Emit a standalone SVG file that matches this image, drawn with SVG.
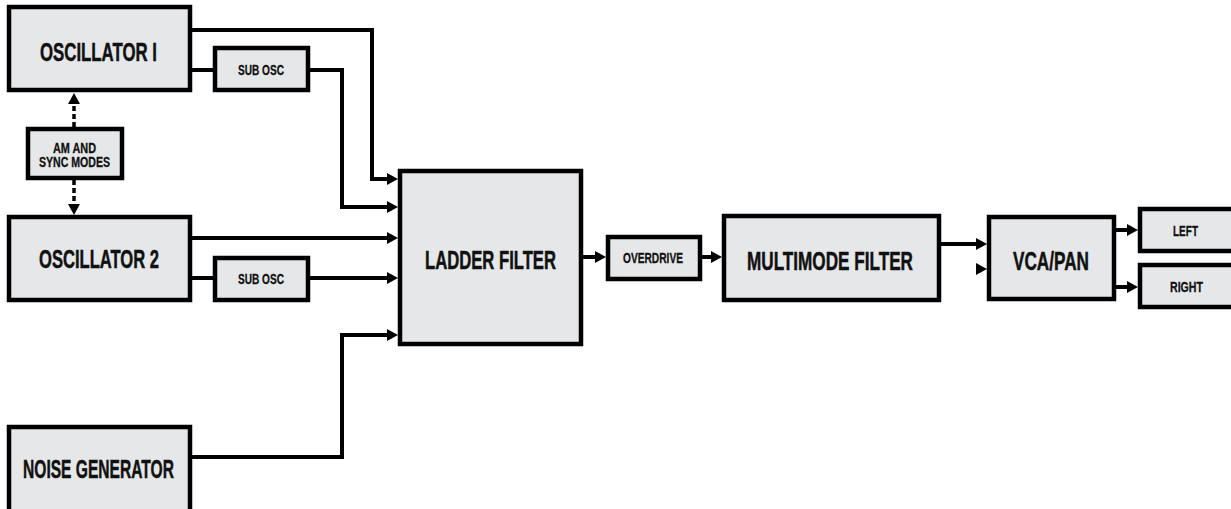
<svg xmlns="http://www.w3.org/2000/svg" width="1231" height="509" viewBox="0 0 1231 509">
<style>
.box{fill:#e6e7e8;stroke:#000;stroke-width:4.5}
.t{font-family:"Liberation Sans",Arial,sans-serif;font-weight:bold;text-anchor:middle;fill:#111;stroke:#111;stroke-width:0.5}
.big{font-size:26px}
.sm{font-size:15px;stroke-width:0.3}
.xs{font-size:14px;stroke-width:0.3}
.c{fill:none;stroke:#000;stroke-width:4;marker-end:url(#ah)}
.p{fill:none;stroke:#000;stroke-width:4}
.d{fill:none;stroke:#000;stroke-width:3.5;stroke-dasharray:5 3;marker-end:url(#ah)}
</style>
<defs>
<marker id="ah" markerWidth="12" markerHeight="14" refX="0" refY="7" orient="auto" markerUnits="userSpaceOnUse">
<path d="M0,1 L11,7 L0,13 z" fill="#000"/>
</marker>
</defs>
<rect width="1231" height="509" fill="#fff"/>
<g id="connectors">
<path class="c" d="M190,30 H372 V179 H387"/>
<path class="p" d="M190,70 H215"/>
<path class="c" d="M308,70 H342 V207 H387"/>
<path class="c" d="M190,238 H387"/>
<path class="p" d="M190,278 H215"/>
<path class="c" d="M308,278 H387"/>
<path class="c" d="M190,457 H342 V335 H387"/>
<path class="c" d="M581,257 H595"/>
<path class="c" d="M700,257 H711"/>
<path class="c" d="M939,244 H976"/>
<path d="M976,263 L987,269 L976,275 z" fill="#000"/>
<path class="c" d="M1114,230 H1127"/>
<path class="c" d="M1114,287 H1127"/>
<path class="d" d="M74,127 V104"/>
<path class="d" d="M74,180 V204"/>
</g>
<g id="osc1">
<rect class="box" x="9" y="7" width="181" height="83"/>
<text class="t big" x="98.5" y="61" textLength="117" lengthAdjust="spacingAndGlyphs">OSCILLATOR I</text>
</g>
<g id="sub1">
<rect class="box" x="215" y="48" width="93" height="42"/>
<text class="t sm" x="261" y="74.5" textLength="46" lengthAdjust="spacingAndGlyphs">SUB OSC</text>
</g>
<g id="am">
<rect class="box" x="28" y="129" width="94" height="49"/>
<text class="t xs" x="74.5" y="153" textLength="43" lengthAdjust="spacingAndGlyphs">AM AND</text>
<text class="t xs" x="74.5" y="167" textLength="71" lengthAdjust="spacingAndGlyphs">SYNC MODES</text>
</g>
<g id="osc2">
<rect class="box" x="9" y="217" width="181" height="83"/>
<text class="t big" x="99" y="268" textLength="120" lengthAdjust="spacingAndGlyphs">OSCILLATOR 2</text>
</g>
<g id="sub2">
<rect class="box" x="215" y="258" width="93" height="42"/>
<text class="t sm" x="261" y="284" textLength="46" lengthAdjust="spacingAndGlyphs">SUB OSC</text>
</g>
<g id="noise">
<rect class="box" x="9" y="427" width="181" height="100"/>
<text class="t big" x="98.5" y="478" textLength="151" lengthAdjust="spacingAndGlyphs">NOISE GENERATOR</text>
</g>
<g id="ladder">
<rect class="box" x="400" y="171" width="181" height="173"/>
<text class="t big" x="490.5" y="269" textLength="131" lengthAdjust="spacingAndGlyphs">LADDER FILTER</text>
</g>
<g id="overdrive">
<rect class="box" x="608" y="237" width="92" height="42"/>
<text class="t sm" x="653" y="263" textLength="60" lengthAdjust="spacingAndGlyphs">OVERDRIVE</text>
</g>
<g id="multimode">
<rect class="box" x="724" y="216" width="215" height="84"/>
<text class="t big" x="830" y="270" textLength="166" lengthAdjust="spacingAndGlyphs">MULTIMODE FILTER</text>
</g>
<g id="vca">
<rect class="box" x="989" y="217" width="125" height="82"/>
<text class="t big" x="1051" y="270" textLength="76" lengthAdjust="spacingAndGlyphs">VCA/PAN</text>
</g>
<g id="left">
<rect class="box" x="1140" y="209" width="110" height="42"/>
<text class="t xs" x="1185.5" y="236" textLength="25" lengthAdjust="spacingAndGlyphs">LEFT</text>
</g>
<g id="right">
<rect class="box" x="1140" y="265" width="110" height="42"/>
<text class="t sm" x="1186.5" y="292" textLength="33" lengthAdjust="spacingAndGlyphs">RIGHT</text>
</g>
</svg>
